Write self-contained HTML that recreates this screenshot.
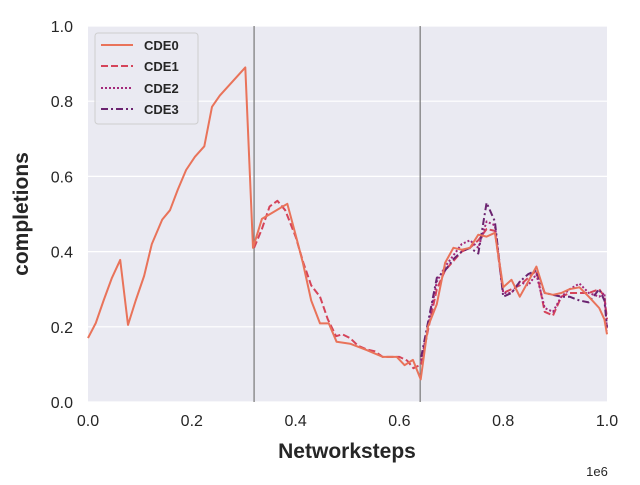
<!DOCTYPE html>
<html><head><meta charset="utf-8"><style>
body{margin:0;background:#fff;}
svg text{font-family:"Liberation Sans",sans-serif;}
</style></head><body>
<svg id="chart" width="640" height="480" xmlns="http://www.w3.org/2000/svg">
<rect x="88" y="26" width="519" height="376" fill="#eaeaf2"/>
<g id="grid"></g><g id="series"></g><g id="ticks"></g>
<text x="28" y="214" font-size="21" font-weight="bold" fill="#262626" text-anchor="middle" transform="rotate(-90 28 214)">completions</text>
<text x="347" y="458" font-size="21" font-weight="bold" fill="#262626" text-anchor="middle">Networksteps</text>
<text x="597" y="476" font-size="13" fill="#262626" text-anchor="middle">1e6</text>
<g>
<rect x="95" y="33" width="103" height="91" rx="3" fill="#eaeaf2" stroke="#cccccc" opacity="0.9"/>
<line x1="101" y1="45" x2="133" y2="45" stroke="#e9735a" stroke-width="2"/>
<text x="144" y="50" font-size="13" font-weight="bold" fill="#262626">CDE0</text>
<line x1="101" y1="66" x2="133" y2="66" stroke="#d5445a" stroke-width="2" stroke-dasharray="7,3"/>
<text x="144" y="71" font-size="13" font-weight="bold" fill="#262626">CDE1</text>
<line x1="101" y1="88" x2="133" y2="88" stroke="#a3287a" stroke-width="2" stroke-dasharray="2,2"/>
<text x="144" y="93" font-size="13" font-weight="bold" fill="#262626">CDE2</text>
<line x1="101" y1="109" x2="133" y2="109" stroke="#6b2370" stroke-width="2" stroke-dasharray="7,3,2,3"/>
<text x="144" y="114" font-size="13" font-weight="bold" fill="#262626">CDE3</text>
</g>
</svg>
<script>
const yTicks=[0,0.2,0.4,0.6,0.8,1.0];
const xTicks=[0,0.2,0.4,0.6,0.8,1.0];
const vlines=[0.32,0.64];
const x0=[0,0.015,0.03,0.046,0.062,0.077,0.092,0.108,0.123,0.143,0.158,0.173,0.189,0.206,0.224,0.239,0.254,0.303,0.318,0.335,0.351,0.384,0.4,0.414,0.43,0.447,0.464,0.479,0.505,0.537,0.568,0.595,0.61,0.626,0.641];
const y0=[0.17,0.21,0.27,0.33,0.378,0.205,0.27,0.335,0.42,0.485,0.51,0.565,0.617,0.652,0.68,0.785,0.815,0.89,0.41,0.487,0.5,0.527,0.445,0.37,0.27,0.209,0.209,0.16,0.155,0.138,0.12,0.12,0.098,0.112,0.06];
const x1s2=[0.32,0.335,0.35,0.365,0.38,0.4,0.415,0.43,0.447,0.462,0.478,0.49,0.505,0.52,0.537,0.552,0.568,0.584,0.6,0.615,0.627];
const y1s2=[0.41,0.46,0.52,0.535,0.51,0.44,0.37,0.31,0.28,0.22,0.175,0.18,0.17,0.15,0.14,0.135,0.12,0.12,0.12,0.11,0.09];
const x3=[0.642,0.655,0.672,0.688,0.704,0.72,0.736,0.752,0.768,0.784,0.8,0.816,0.832,0.848,0.864,0.88,0.896,0.912,0.928,0.947,0.965,0.985,0.995,1.0];
const y0s3=[0.06,0.2,0.26,0.37,0.41,0.405,0.41,0.445,0.44,0.45,0.305,0.325,0.28,0.32,0.36,0.29,0.285,0.29,0.3,0.305,0.28,0.25,0.22,0.18];
const y1s3=[0.1,0.19,0.3,0.35,0.375,0.4,0.41,0.43,0.46,0.455,0.29,0.3,0.31,0.33,0.35,0.24,0.23,0.28,0.29,0.29,0.29,0.3,0.28,0.22];
const y2s3=[0.11,0.2,0.32,0.36,0.39,0.42,0.43,0.41,0.48,0.47,0.29,0.29,0.32,0.31,0.34,0.25,0.24,0.28,0.3,0.315,0.29,0.28,0.29,0.19];
const y3s3=[0.12,0.21,0.33,0.35,0.38,0.4,0.41,0.395,0.53,0.48,0.28,0.29,0.32,0.34,0.35,0.29,0.285,0.28,0.28,0.27,0.265,0.3,0.27,0.2];
const X=v=>88+v*519, Y=v=>402-v*376;
const NS="http://www.w3.org/2000/svg";
const grid=document.getElementById('grid'),ticks=document.getElementById('ticks'),ser=document.getElementById('series');
function mk(t,a,p){const e=document.createElementNS(NS,t);for(const k in a)e.setAttribute(k,a[k]);p.appendChild(e);return e;}
yTicks.forEach(v=>{
 const l=mk('line',{x1:88,x2:607,y1:Y(v),y2:Y(v),stroke:'#fff','stroke-width':1.2},grid);
 
 
 const t=mk('text',{x:73,y:Y(v)+6,'font-size':16,fill:'#262626','text-anchor':'end'},ticks);
 t.textContent=v.toFixed(1);
 
 
});
xTicks.forEach(v=>{
 const t=mk('text',{x:X(v),y:426,'font-size':16,fill:'#262626','text-anchor':'middle'},ticks);
 t.textContent=v.toFixed(1);
 
 
});
vlines.forEach(v=>{
 const l=mk('line',{x1:X(v),x2:X(v),y1:26,y2:402,stroke:'#777','stroke-width':1.2},grid);
 
 
});
function line(xs,ys,color,dash,name){
 const d=xs.map((x,i)=>(i?'L':'M')+X(x).toFixed(1)+','+Y(ys[i]).toFixed(1)).join('');
 const p=mk('path',{d:d,fill:'none',stroke:color,'stroke-width':2,'stroke-dasharray':dash,'stroke-linejoin':'round'},ser);
 
 
}
line(x1s2.concat(x3),y1s2.concat(y1s3),'#d5445a','7,3','cde1-line');
line(x3,y2s3,'#a3287a','2,2','cde2-line');
line(x3,y3s3,'#6b2370','7,3,2,3','cde3-line');
line(x0.concat(x3.slice(1)),y0.concat(y0s3.slice(1)),'#e9735a','none','cde0-line');
</script>
</body></html>
